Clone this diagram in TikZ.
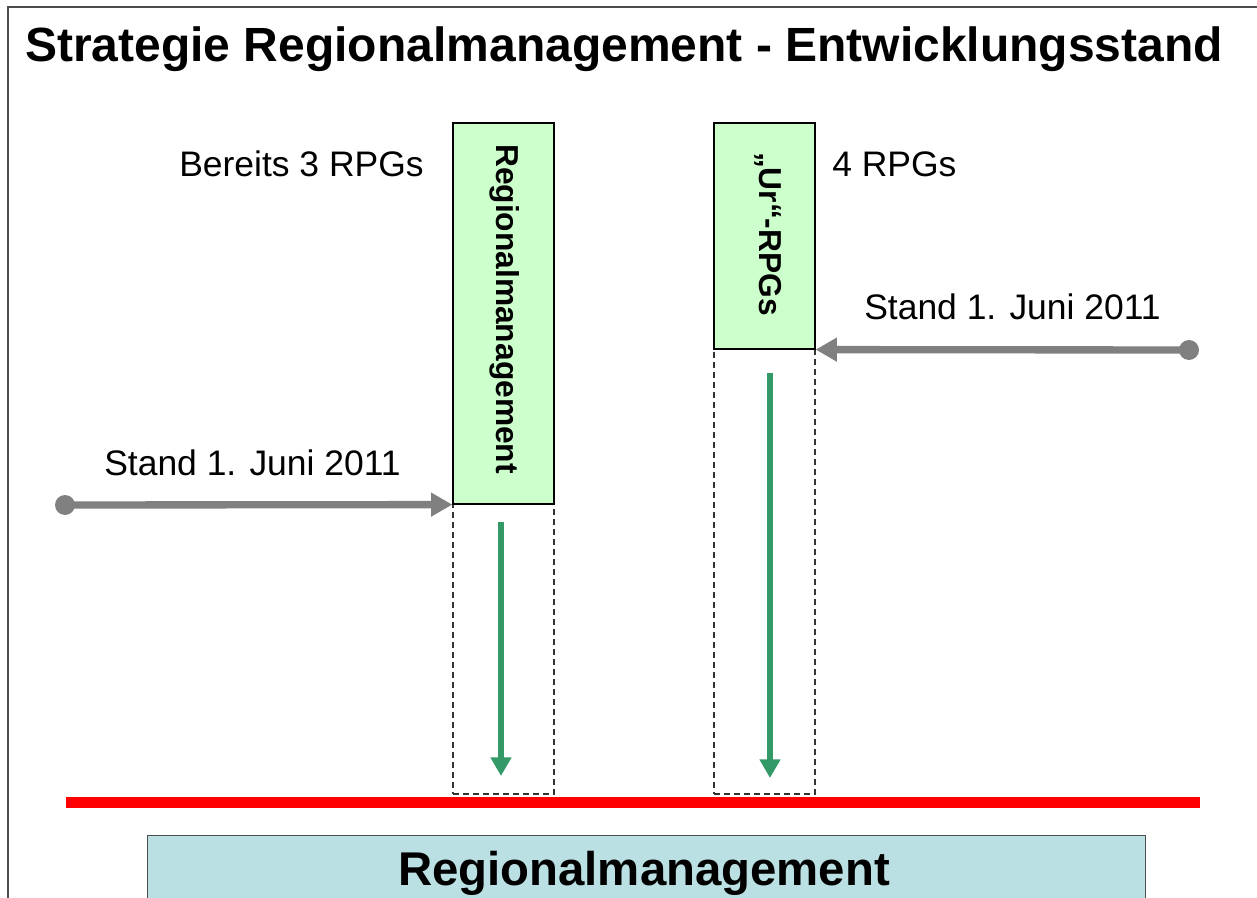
\documentclass[tikz,border=0pt]{standalone}
\usepackage{fontspec}
\setmainfont{Liberation Sans}
\usetikzlibrary{arrows.meta,fit}
\definecolor{boxgreen}{HTML}{CCFFCC}
\definecolor{arrowgreen}{RGB}{51,153,102}
\definecolor{boxcyan}{HTML}{BAE0E3}
\definecolor{conngray}{HTML}{808080}
\begin{document}
\begin{tikzpicture}[x=0.75pt,y=-0.75pt,
  greenbox/.style={draw=black, line width=0.9pt, fill=boxgreen, inner sep=0pt},
  dashbox/.style={draw=black!80, dash pattern=on 4.5pt off 3pt, line width=1.1pt, inner sep=0pt},
  txt/.style={anchor=base west, inner sep=0pt, font=\fontsize{26.6}{30}\selectfont},
  vtxt/.style={rotate=-90, inner sep=0pt, font=\bfseries\fontsize{23.8}{27}\selectfont},
  grayconn/.style={conngray, line width=5.5pt, -{Triangle[length=16pt,width=17pt]}},
  greenconn/.style={arrowgreen, line width=4.5pt, -{Triangle[length=14pt,width=15pt]}},
  dot/.style={circle, fill=conngray, minimum size=15pt, inner sep=0pt}]
\useasboundingbox (0,0) rectangle (1257,898);
% frame
\draw[black!70, line width=1.6pt] (8,898) -- (8,7) -- (1257,7);
% title
\node[anchor=base west, inner sep=0pt, font=\bfseries\fontsize{36}{40}\selectfont] (title) at (25,62) {Strategie Regionalmanagement - Entwicklungsstand};
% dashed boxes
\node[dashbox, fit={(453,504) (554,794)}] (ldash) {};
\node[dashbox, fit={(714,349) (815,794)}] (rdash) {};
% green boxes
\node[greenbox, fit={(453,123) (554,504)}] (lbox) {};
\node[greenbox, fit={(714,123) (815,349)}] (rbox) {};
\node[vtxt] (ltext) at (505,309) {Regionalmanagement};
\node[vtxt] (rtext) at (768,234) {„Ur“-RPGs};
% labels
\node[txt] (bereits) at (179,177) {Bereits 3 RPGs};
\node[txt] (four) at (832,177) {4 RPGs};
\node[txt] (lstand) at (104,475) {Stand 1. Juni 2011};
\node[txt] (rstand) at (864,320) {Stand 1. Juni 2011};
% gray connectors
\node[dot] (ldot) at (65,505) {};
\node[dot] (rdot) at (1189,350) {};
\draw[grayconn] (ldot.center) -- (lbox.south west);
\draw[grayconn] (rdot.center) -- (rbox.south east);
% green arrows
\coordinate (lgs) at (501,522);
\coordinate (lge) at (501,776);
\coordinate (rgs) at (770,373);
\coordinate (rge) at (770,778);
\draw[greenconn] (lgs) -- (lge);
\draw[greenconn] (rgs) -- (rge);
% red line
\coordinate (redl) at (66,802);
\coordinate (redr) at (1200,802);
\draw[red, line width=8.25pt] (redl) -- (redr);
% bottom box
\node[fit={(147,835) (1145,915)}, fill=boxcyan, draw=black!70, line width=0.75pt, inner sep=0pt] (bottom) {};
\node[anchor=base, inner sep=0pt, font=\bfseries\fontsize{35.5}{40}\selectfont] (btext) at (644,885) {Regionalmanagement};
\end{tikzpicture}
\end{document}
